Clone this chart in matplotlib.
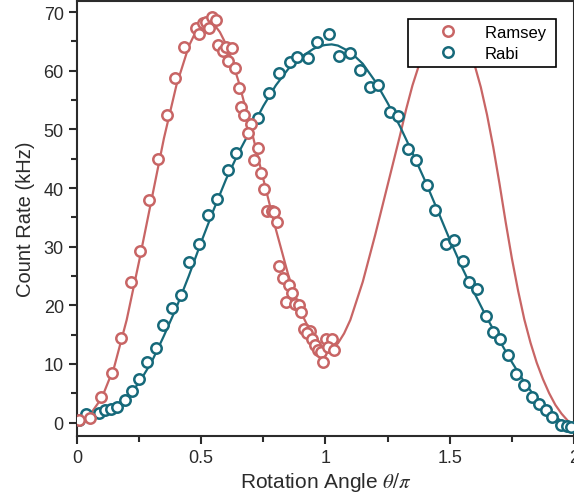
import numpy as np
import matplotlib
matplotlib.use('Agg')
from matplotlib import pyplot as plt
from matplotlib.ticker import MultipleLocator

plt.rcParams['font.family'] = ['Liberation Sans', 'DejaVu Sans']
plt.rcParams['mathtext.fontset'] = 'stix'

# measured points (theta/pi, kHz)
ramsey_x = [0.008, 0.053, 0.098, 0.139, 0.176, 0.216, 0.254, 0.289, 0.327, 0.361,
            0.395, 0.429, 0.479, 0.490, 0.508, 0.521, 0.532, 0.545, 0.561, 0.569,
            0.589, 0.598, 0.624, 0.609, 0.637, 0.650, 0.660, 0.672, 0.701, 0.688,
            0.728, 0.713, 0.740, 0.753, 0.766, 0.784, 0.794, 0.804, 0.814, 0.828,
            0.852, 0.866, 0.840, 0.879, 0.893, 0.901, 0.915, 0.939, 0.927, 0.947,
            0.958, 0.970, 0.981, 1.003, 1.026, 1.011, 1.035, 0.989]
ramsey_y = [0.5, 0.8, 4.4, 8.5, 14.5, 24.0, 29.2, 37.9, 44.9, 52.4,
            58.8, 64.1, 67.3, 66.3, 68.1, 68.3, 67.3, 69.2, 68.6, 64.4,
            63.4, 64.0, 63.8, 61.7, 60.5, 57.1, 53.9, 52.5, 50.9, 49.3,
            46.8, 44.8, 42.5, 39.8, 36.1, 36.1, 35.9, 34.2, 26.7, 24.7,
            23.4, 22.1, 20.5, 20.3, 20.1, 18.8, 16.0, 15.6, 15.3, 14.2,
            13.2, 12.3, 12.1, 14.2, 14.2, 12.8, 12.3, 10.4]

rabi_x = [0.007, 0.037, 0.087, 0.114, 0.138, 0.161, 0.192, 0.221, 0.248, 0.282,
          0.317, 0.346, 0.382, 0.420, 0.452, 0.491, 0.528, 0.565, 0.609, 0.640,
          0.728, 0.773, 0.814, 0.857, 0.884, 0.928, 0.967, 1.014, 1.056, 1.097,
          1.139, 1.178, 1.210, 1.260, 1.292, 1.333, 1.363, 1.407, 1.441, 1.485,
          1.517, 1.555, 1.579, 1.610, 1.646, 1.675, 1.702, 1.736, 1.765, 1.799,
          1.831, 1.859, 1.887, 1.910, 1.946, 1.973, 1.987]
rabi_y = [0.4, 1.4, 1.7, 2.1, 2.3, 2.6, 3.8, 5.3, 7.4, 10.3,
          12.7, 16.7, 19.5, 21.8, 27.3, 30.5, 35.4, 38.2, 43.1, 46.0,
          52.0, 56.2, 59.6, 61.5, 62.4, 62.2, 64.9, 66.2, 62.5, 63.1,
          60.1, 57.2, 57.5, 52.9, 52.2, 46.6, 44.8, 40.5, 36.2, 30.5,
          31.1, 27.5, 24.0, 22.7, 18.2, 15.5, 14.3, 11.5, 8.2, 6.4,
          4.3, 3.2, 2.1, 1.0, -0.4, -0.6, -0.75]

# fit curves
ramsey_fit_x = [0.00, 0.05, 0.10, 0.15, 0.20, 0.25, 0.30, 0.35, 0.40, 0.45,
                0.475, 0.50, 0.525, 0.55, 0.575, 0.60, 0.625, 0.65, 0.70, 0.75,
                0.80, 0.85, 0.90, 0.95, 0.975, 1.00, 1.025, 1.05, 1.075, 1.10,
                1.15, 1.20, 1.25, 1.30, 1.325, 1.35, 1.375, 1.40, 1.425, 1.45,
                1.475, 1.50, 1.525, 1.55, 1.575, 1.60, 1.625, 1.65, 1.675, 1.70,
                1.725, 1.75, 1.775, 1.80, 1.825, 1.85, 1.875, 1.90, 1.925, 1.95,
                1.975, 2.00]
ramsey_fit = [0.0, 1.2, 4.2, 9.5, 17.5, 27.5, 38.0, 48.5, 57.5, 64.2,
              66.4, 67.8, 68.4, 68.0, 66.6, 64.5, 61.6, 58.2, 50.2, 41.5,
              33.0, 25.2, 18.9, 14.6, 13.3, 12.6, 12.7, 13.5, 15.2, 17.5,
              24.0, 32.0, 40.5, 49.0, 53.5, 57.5, 60.8, 63.5, 65.6, 67.0,
              67.8, 68.0, 67.5, 66.2, 64.0, 61.0, 57.2, 52.5, 47.0, 40.8,
              34.2, 28.0, 22.5, 17.6, 13.6, 10.2, 7.4, 5.0, 3.0, 1.5,
              0.3, -0.5]

rabi_fit_x = [0.00, 0.05, 0.10, 0.15, 0.20, 0.25, 0.30, 0.35, 0.40, 0.45,
              0.50, 0.55, 0.60, 0.65, 0.70, 0.75, 0.80, 0.85, 0.90, 0.95,
              0.975, 1.00, 1.025, 1.05, 1.10, 1.15, 1.20, 1.25, 1.30, 1.35,
              1.40, 1.45, 1.50, 1.55, 1.60, 1.65, 1.70, 1.75, 1.80, 1.85,
              1.90, 1.95, 2.00]
rabi_fit = [0.5, 1.1, 1.9, 2.7, 4.2, 6.8, 10.3, 14.8, 19.6, 25.0,
            30.8, 36.3, 41.5, 46.0, 50.0, 54.0, 57.5, 60.3, 62.3, 63.7,
            64.2, 64.4, 64.5, 64.3, 63.2, 61.2, 58.2, 54.5, 50.5, 46.0,
            41.3, 36.3, 31.2, 26.4, 22.0, 17.8, 14.0, 10.3, 6.9, 4.0,
            1.8, 0.2, -0.6]

red = '#C86565'
teal = '#16697A'
dark = '#2b2b2b'

fig = plt.figure(figsize=(5.74, 5.02), dpi=100)
ax = fig.add_axes([0.1341, 0.1295, 0.8659, 0.8665])

ax.plot(ramsey_fit_x, ramsey_fit, color=red, lw=1.6, zorder=2)
ax.plot(rabi_fit_x, rabi_fit, color=teal, lw=1.6, zorder=2)
ax.plot(rabi_x, rabi_y, 'o', ms=7.5, mfc='white', mec=teal, mew=1.8, zorder=3, label='Rabi')
ax.plot(ramsey_x, ramsey_y, 'o', ms=7.5, mfc='white', mec=red, mew=1.8, zorder=4, label='Ramsey ')

ax.set_xlim(0, 2)
ax.set_ylim(-2.3, 71.9)
ax.xaxis.set_minor_locator(MultipleLocator(0.25))
ax.yaxis.set_major_locator(MultipleLocator(10))
ax.yaxis.set_minor_locator(MultipleLocator(5))
ax.set_xticks([0, 0.5, 1, 1.5, 2])
ax.set_xticklabels(['0', '0.5', '1', '1.5', '2'])

for s in ax.spines.values():
    s.set_color(dark)
    s.set_linewidth(1.5)
ax.tick_params(which='major', direction='out', length=6, width=1.5, color=dark,
               labelsize=13, labelcolor=dark)
ax.tick_params(which='minor', direction='out', length=4, width=1.5, color=dark)

ax.set_xlabel(r'Rotation Angle $\theta/\pi$', fontsize=15, color=dark, labelpad=3)
ax.set_ylabel('Count Rate (kHz)', fontsize=14.5, color=dark, labelpad=6)

h, l = ax.get_legend_handles_labels()
leg = ax.legend(h[::-1], l[::-1], loc='upper right', bbox_to_anchor=(0.964, 0.9586),
                fontsize=12, frameon=True, fancybox=False, framealpha=1,
                edgecolor='black', handletextpad=0.1, borderpad=0.33,
                labelspacing=0.4, handlelength=4.2, borderaxespad=0)
leg.get_frame().set_linewidth(1.2)
for t in leg.get_texts():
    t.set_color('black')
leg.set_zorder(10)

fig.savefig('out.png', dpi=100)
